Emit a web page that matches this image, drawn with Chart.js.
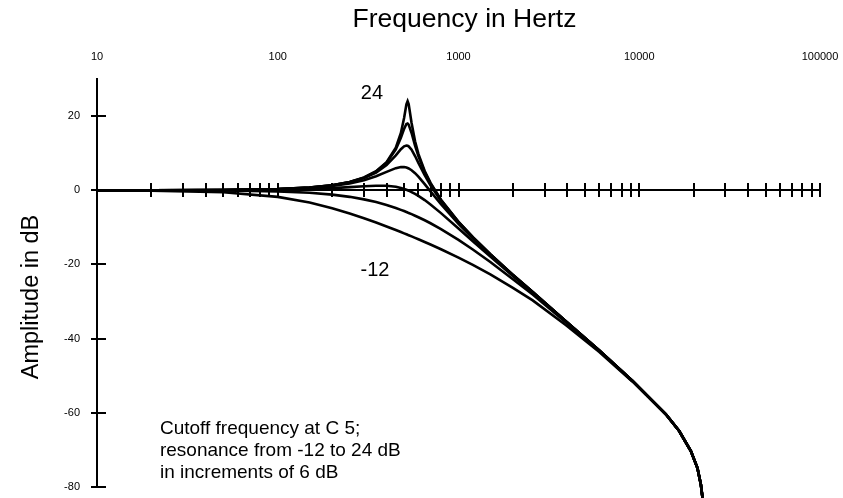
<!DOCTYPE html>
<html><head><meta charset="utf-8">
<script src="https://cdn.jsdelivr.net/npm/chart.js@4/dist/chart.umd.min.js"></script>
<style>html,body{margin:0;padding:0;background:#fff}#wrap{position:relative;width:843px;height:498px}</style>
</head><body><div id="wrap"><canvas id="c"></canvas></div>
<script>
// Frequencies (Hz) at which the responses were read
const freqs = [10, 20, 50, 100, 150, 200, 250, 300, 350, 400, 450, 480, 500, 515, 523, 530, 550, 575, 600, 650, 700, 800, 1000, 1200, 1500, 2000, 2574, 3936, 6012, 9183, 11357, 14046, 16634, 19302, 20990, 21920, 22387];
// Amplitude (dB) for each resonance setting
const resM12 = [-0.02, -0.09, -0.52, -1.78, -3.31, -4.84, -6.25, -7.53, -8.69, -9.75, -10.72, -11.26, -11.61, -11.86, -12.00, -12.11, -12.44, -12.83, -13.21, -13.94, -14.62, -15.89, -18.14, -20.09, -22.65, -26.29, -29.7, -36.4, -43.6, -51.6, -56.0, -60.5, -64.9, -70.3, -74.9, -79.3, -82.9];
const resM6 = [0.00, -0.01, -0.08, -0.31, -0.68, -1.18, -1.77, -2.45, -3.19, -3.98, -4.79, -5.28, -5.61, -5.86, -6.00, -6.11, -6.44, -6.86, -7.27, -8.09, -8.89, -10.45, -13.36, -15.96, -19.34, -23.97, -28.1, -35.65, -43.3, -51.4, -55.9, -60.4, -64.9, -70.3, -74.9, -79.3, -82.9];
const res0 = [0.00, 0.01, 0.04, 0.16, 0.34, 0.58, 0.84, 1.08, 1.23, 1.21, 0.93, 0.62, 0.36, 0.13, 0.00, -0.11, -0.48, -0.97, -1.51, -2.64, -3.83, -6.16, -10.32, -13.74, -17.87, -23.13, -27.6, -35.4, -43.2, -51.4, -55.9, -60.4, -64.9, -70.3, -74.9, -79.3, -82.9];
const res6 = [0.00, 0.01, 0.07, 0.28, 0.64, 1.16, 1.85, 2.73, 3.79, 4.95, 5.96, 6.26, 6.25, 6.12, 6.00, 5.88, 5.40, 4.60, 3.67, 1.66, -0.31, -3.76, -9.04, -12.94, -17.41, -22.89, -27.5, -35.4, -43.2, -51.4, -55.9, -60.4, -64.9, -70.3, -74.9, -79.3, -82.9];
const res12 = [0.00, 0.01, 0.08, 0.31, 0.72, 1.32, 2.15, 3.27, 4.77, 6.79, 9.41, 11.07, 11.86, 12.07, 12.00, 11.84, 10.93, 9.23, 7.40, 4.06, 1.33, -2.87, -8.65, -12.72, -17.29, -22.82, -27.45, -35.4, -43.2, -51.4, -55.9, -60.4, -64.9, -70.3, -74.9, -79.3, -82.9];
const res18 = [0.00, 0.01, 0.08, 0.32, 0.74, 1.36, 2.22, 3.41, 5.05, 7.40, 11.00, 14.15, 16.57, 17.87, 18.00, 17.71, 15.45, 12.06, 9.21, 4.96, 1.86, -2.62, -8.55, -12.66, -17.25, -22.81, -27.45, -35.4, -43.2, -51.4, -55.9, -60.4, -64.9, -70.3, -74.9, -79.3, -82.9];
const res24 = [0.00, 0.01, 0.08, 0.32, 0.74, 1.37, 2.24, 3.45, 5.13, 7.57, 11.50, 15.46, 19.51, 23.16, 24.00, 23.23, 18.13, 13.20, 9.81, 5.21, 2.00, -2.55, -8.52, -12.64, -17.25, -22.80, -27.45, -35.4, -43.2, -51.4, -55.9, -60.4, -64.9, -70.3, -74.9, -79.3, -82.9];
const seriesNames = ['-12 dB', '-6 dB', '0 dB', '6 dB', '12 dB', '18 dB', '24 dB'];
const seriesValues = [resM12, resM6, res0, res6, res12, res18, res24];

// Tick values / labels
const xLabelTicks = [10, 100, 1000, 10000, 100000];
const xMinorTicks = [10,20,30,40,50,60,70,80,90,100,200,300,400,500,600,700,800,900,1000,2000,3000,4000,5000,6000,7000,8000,9000,10000,20000,30000,40000,50000,60000,70000,80000,90000,100000];
const yTicks = [-80, -60, -40, -20, 0, 20];

// Text annotations (anchored in data units)
const notes = [
  {text: '24', f: 332, db: 26.2, align: 'center', size: 20},
  {text: '-12', f: 345, db: -21.6, align: 'center', size: 20},
  {text: 'Cutoff frequency at C 5;', f: 22.3, db: -64.3, align: 'left', size: 19},
  {text: 'resonance from -12 to 24 dB', f: 22.3, db: -70.2, align: 'left', size: 19},
  {text: 'in increments of 6 dB', f: 22.3, db: -76.1, align: 'left', size: 19}
];
const xTitle = 'Frequency in Hertz';
const yTitle = 'Amplitude in dB';

const FONT = "'Liberation Sans', Arial, Helvetica, sans-serif";
Chart.defaults.font.family = FONT;
Chart.defaults.color = '#000';

const notesPlugin = {
  id: 'notes',
  afterDatasetsDraw(chart) {
    const {ctx, scales, chartArea} = chart;
    ctx.save();
    ctx.fillStyle = '#000';
    ctx.textBaseline = 'middle';
    notes.forEach(n => {
      ctx.font = n.size + 'px ' + FONT;
      ctx.textAlign = n.align;
      ctx.fillText(n.text, scales.x.getPixelForValue(n.f), scales.y.getPixelForValue(n.db));
    });
    ctx.font = '26.5px ' + FONT;
    ctx.textAlign = 'center';
    ctx.fillText(xTitle, (chartArea.left + chartArea.right) / 2 + 6, 20);
    ctx.font = '23.5px ' + FONT;
    ctx.translate(32, (chartArea.top + chartArea.bottom) / 2 + 14);
    ctx.rotate(-Math.PI / 2);
    ctx.fillText(yTitle, 0, 0);
    ctx.restore();
  }
};

const datasets = seriesValues.map((vals, i) => ({
  label: seriesNames[i],
  data: freqs.map((f, j) => ({x: f, y: vals[j]})),
  borderColor: '#000',
  borderWidth: 2.6,
  pointRadius: 0,
  tension: 0,
  fill: false,
  clip: false,
  xAxisID: 'x',
  yAxisID: 'y'
}));

new Chart(document.getElementById('c'), {
  type: 'line',
  data: {datasets},
  options: {
    responsive: true,
    maintainAspectRatio: false,
    animation: false,
    events: [],
    layout: {padding: {left: 0, right: 23, top: 0, bottom: 11}},
    plugins: {legend: {display: false}, tooltip: {enabled: false}},
    scales: {
      x: {
        type: 'logarithmic', position: 'top', min: 10, max: 100000,
        afterBuildTicks: s => { s.ticks = xLabelTicks.map(v => ({value: v})); },
        afterFit: s => { s.height = 79; s.paddingLeft = 0; s.paddingRight = 0; },
        ticks: {autoSkip: false, maxRotation: 0, padding: 15, font: {size: 11}, color: '#000', callback: v => String(v)},
        grid: {display: false, drawTicks: false},
        border: {display: false}
      },
      xz: {
        axis: 'x', type: 'logarithmic', position: {y: 0}, min: 10, max: 100000,
        afterBuildTicks: s => { s.ticks = xMinorTicks.map(v => ({value: v})); },
        afterFit: s => { s.height = 0; s.paddingLeft = 0; s.paddingRight = 0; },
        ticks: {display: false},
        grid: {drawOnChartArea: false, drawTicks: true, tickLength: 6, color: '#000', lineWidth: 2},
        border: {display: true, color: '#000', width: 2}
      },
      xz2: {
        axis: 'x', type: 'logarithmic', position: {y: 0}, min: 10, max: 100000,
        afterBuildTicks: s => { s.ticks = xMinorTicks.map(v => ({value: v})); },
        afterFit: s => { s.height = 0; s.paddingLeft = 0; s.paddingRight = 0; },
        ticks: {display: false},
        grid: {drawOnChartArea: false, drawTicks: true, tickLength: -7, color: '#000', lineWidth: 2},
        border: {display: false}
      },
      y: {
        type: 'linear', position: 'left', min: -80, max: 30,
        afterBuildTicks: s => { s.ticks = yTicks.map(v => ({value: v})); },
        afterFit: s => { s.width = 97; s.paddingTop = 0; s.paddingBottom = 0; },
        ticks: {padding: 11, font: {size: 11}, color: '#000'},
        grid: {drawOnChartArea: false, drawTicks: true, tickLength: 6, color: '#000', lineWidth: 2},
        border: {display: true, color: '#000', width: 2}
      },
      y2: {
        axis: 'y', type: 'linear', position: {x: 10}, min: -80, max: 30,
        afterBuildTicks: s => { s.ticks = yTicks.map(v => ({value: v})); },
        afterFit: s => { s.width = 0; s.paddingTop = 0; s.paddingBottom = 0; },
        ticks: {display: false},
        grid: {drawOnChartArea: false, drawTicks: true, tickLength: -9, color: '#000', lineWidth: 2},
        border: {display: false}
      }
    }
  },
  plugins: [notesPlugin]
});
</script></body></html>
